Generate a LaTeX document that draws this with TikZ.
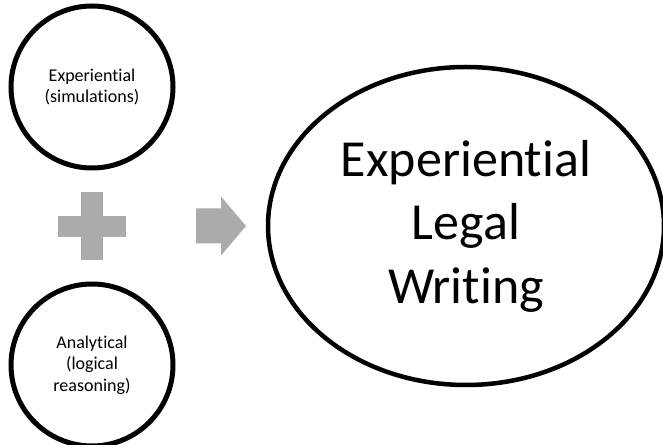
\documentclass[tikz,border=0pt]{standalone}
\usepackage{fontspec}
\setmainfont{Carlito}[Ligatures=NoCommon]
\usetikzlibrary{shapes.geometric, positioning, calc}
\definecolor{symgray}{RGB}{171,171,171}

\begin{document}
\begin{tikzpicture}[x=1pt,y=1pt,every node/.style={outer sep=0pt}]
\tikzstyle{idea}=[draw,circle,line width=5pt,minimum size=162pt,inner sep=0pt,align=center,font=\fontsize{18}{21.5}\selectfont]
\tikzstyle{result}=[draw,ellipse,line width=4.5pt,minimum width=396pt,minimum height=318pt,inner sep=0pt,align=center,font=\fontsize{52}{63.5}\selectfont]
\tikzstyle{symbol}=[fill=symgray,draw=none]

\useasboundingbox (0,0) rectangle (663,444);

\node (exp) [idea] at (92,357) {Experiential\\(simulations)};
\node (ana) [idea] at (92,79) {Analytical\\(logical\\reasoning)};
\node (elw) [result] at (466,218) {Experiential\\Legal\\Writing};

% plus sign between the two circles
\coordinate (plus) at ($(exp)!0.5!(ana)+(0,-0.5)$);
\fill [symbol] ($(plus)+(-34,-10.5)$) rectangle ($(plus)+(34,10.5)$);
\fill [symbol] ($(plus)+(-11,-34)$) rectangle ($(plus)+(11,34)$);

% block arrow towards the ellipse
\coordinate (tip) at (246,218);
\fill [symbol] (tip) -- ++(-25,29.5) -- ++(0,-12) -- ++(-25,0) -- ++(0,-35) -- ++(25,0) -- ++(0,-12) -- cycle;
\end{tikzpicture}
\end{document}
